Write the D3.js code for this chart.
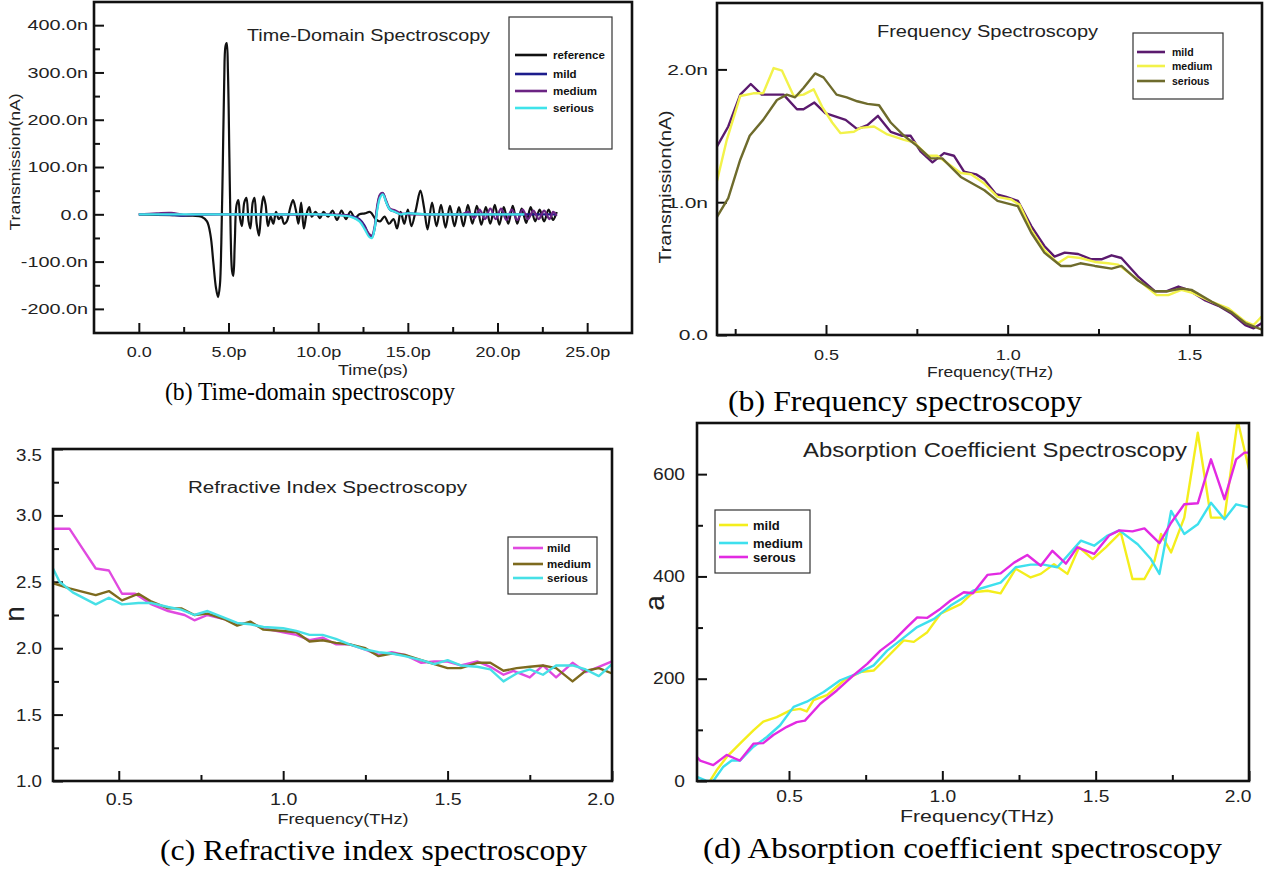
<!DOCTYPE html>
<html>
<head>
<meta charset="utf-8">
<script src="https://d3js.org/d3.v7.min.js"></script>
<style>
body { margin:0; background:#fff; }
text { font-family: "Liberation Sans", Arial, sans-serif; fill:#222; }
.caption { font-family: "Liberation Serif", "Times New Roman", serif; fill:#000; }
.legend-text { font-weight:bold; fill:#111; }
</style>
</head>
<body>
<div class="chart"></div>
<script>
// ---- (a) time-domain, [time ps, current nA]
const tdReference = [[0,0],[1,-1],[2,-2],[3,-3],[3.5,-5],[3.8,-15],[4.0,-45],[4.15,-100],[4.3,-155],[4.42,-175],[4.52,-150],[4.6,-60],[4.68,100],[4.76,280],[4.83,355],[4.9,362],[4.97,300],[5.05,120],[5.12,-40],[5.2,-120],[5.27,-130],[5.35,-60],[5.45,20],[5.55,30],[5.65,-10],[5.75,-25],[5.88,25],[6.0,35],[6.12,-15],[6.22,-30],[6.35,25],[6.45,35],[6.57,-20],[6.7,-45],[6.83,10],[6.95,38],[7.07,20],[7.2,-25],[7.35,-5],[7.5,-20],[7.65,5],[7.8,-10],[7.95,-5],[8.1,-20],[8.25,-15],[8.45,15],[8.6,30],[8.75,10],[8.9,-20],[9.05,25],[9.2,-30],[9.35,0],[9.5,15],[9.65,-5],[9.85,5],[10.1,-8],[10.3,5],[10.55,-5],[10.8,8],[11.05,-12],[11.3,8],[11.55,-10],[11.8,6],[12.05,-8],[12.3,0],[12.6,2],[12.9,5],[13.2,-10],[13.45,-15],[13.7,-5],[13.95,-20],[14.2,-10],[14.4,-30],[14.6,5],[14.8,-20],[15.0,10],[15.2,-25],[15.45,10],[15.7,50],[15.9,15],[16.1,-32],[16.35,25],[16.6,-25],[16.85,20],[17.1,-28],[17.35,18],[17.6,-25],[17.85,15],[18.1,-25],[18.35,20],[18.6,-20],[18.85,18],[19.1,-22],[19.35,15],[19.6,-20],[19.85,20],[20.1,-22],[20.35,15],[20.6,-20],[20.85,18],[21.1,-20],[21.35,12],[21.6,-18],[21.85,15],[22.1,-15],[22.35,10],[22.6,-15],[22.85,10],[23.1,-12],[23.3,5]];
const tdMild = [[0,0],[1,0],[2,-2],[2.5,-3],[3,-1],[4,0],[6,0],[8,0],[10,0],[11,-1],[11.8,-3],[12.3,-10],[12.6,-25],[12.85,-45],[13.0,-48],[13.15,-30],[13.3,15],[13.45,40],[13.6,45],[13.8,25],[14.0,10],[14.3,5],[14.6,0],[15,2],[16,0],[17,0],[18,0],[19,0],[20,0],[21,0],[22,0],[23,0],[23.3,0]];
const tdMedium = [[0,0],[1,2],[1.8,3],[2.5,-1],[3,0],[4,0],[6,0],[8,0],[10,0],[11,-1],[11.8,-4],[12.3,-12],[12.6,-28],[12.85,-42],[13.0,-45],[13.15,-25],[13.3,20],[13.45,42],[13.6,45],[13.8,28],[14.0,12],[14.3,8],[14.6,2],[15,0],[16,0],[17,0],[18,0],[18.4,5],[18.7,-8],[19.0,10],[19.3,-10],[19.6,12],[19.9,-10],[20.2,12],[20.5,-12],[20.8,10],[21.1,-12],[21.4,10],[21.7,-10],[22.0,8],[22.3,-10],[22.6,8],[22.9,-10],[23.1,5],[23.3,-3]];
const tdSerious = [[0,0],[1,0],[2,0],[3,0],[4,0],[6,0],[8,0],[10,0],[11,-2],[11.8,-5],[12.3,-15],[12.6,-32],[12.85,-48],[13.0,-50],[13.15,-30],[13.3,10],[13.45,35],[13.6,42],[13.8,25],[14.0,10],[14.3,5],[14.6,0],[15,2],[16,0],[17,0],[18,0],[19,0],[20,0],[21,0],[21.5,0]];

// ---- (b) frequency spectroscopy, [THz, nA]
const fsMild = [[0.2,1.42],[0.231,1.57],[0.264,1.81],[0.293,1.89],[0.323,1.81],[0.383,1.81],[0.42,1.70],[0.438,1.70],[0.468,1.75],[0.498,1.67],[0.554,1.62],[0.586,1.55],[0.614,1.58],[0.643,1.65],[0.678,1.53],[0.71,1.50],[0.733,1.50],[0.761,1.38],[0.793,1.30],[0.825,1.37],[0.852,1.35],[0.88,1.23],[0.913,1.21],[0.936,1.17],[0.968,1.06],[0.996,1.04],[1.028,1.01],[1.065,0.82],[1.101,0.67],[1.129,0.59],[1.157,0.62],[1.194,0.61],[1.23,0.57],[1.258,0.57],[1.286,0.60],[1.313,0.58],[1.359,0.44],[1.405,0.33],[1.438,0.33],[1.47,0.365],[1.497,0.34],[1.544,0.26],[1.58,0.22],[1.617,0.16],[1.654,0.075],[1.677,0.05],[1.7,0.09]];
const fsMedium = [[0.2,1.16],[0.227,1.47],[0.264,1.80],[0.30,1.82],[0.327,1.82],[0.356,2.01],[0.379,1.99],[0.411,1.80],[0.438,1.81],[0.466,1.85],[0.489,1.72],[0.517,1.60],[0.54,1.52],[0.577,1.53],[0.595,1.56],[0.632,1.57],[0.669,1.51],[0.715,1.47],[0.742,1.45],[0.78,1.35],[0.806,1.35],[0.871,1.22],[0.899,1.21],[0.936,1.14],[0.972,1.04],[1.01,1.02],[1.033,0.98],[1.065,0.79],[1.101,0.64],[1.138,0.54],[1.166,0.59],[1.20,0.58],[1.24,0.55],[1.276,0.54],[1.304,0.53],[1.359,0.415],[1.41,0.30],[1.442,0.30],[1.478,0.34],[1.506,0.32],[1.562,0.25],[1.608,0.20],[1.654,0.10],[1.677,0.075],[1.696,0.13],[1.7,0.14]];
const fsSerious = [[0.2,0.89],[0.231,1.03],[0.264,1.32],[0.29,1.50],[0.327,1.62],[0.365,1.77],[0.392,1.81],[0.415,1.79],[0.438,1.86],[0.47,1.97],[0.493,1.94],[0.529,1.81],[0.557,1.79],[0.586,1.76],[0.614,1.74],[0.646,1.73],[0.678,1.60],[0.715,1.50],[0.752,1.42],[0.788,1.33],[0.82,1.33],[0.871,1.19],[0.936,1.09],[0.972,1.01],[1.028,0.97],[1.065,0.77],[1.101,0.62],[1.147,0.52],[1.175,0.52],[1.20,0.54],[1.24,0.52],[1.286,0.50],[1.313,0.52],[1.359,0.41],[1.405,0.33],[1.442,0.33],[1.478,0.35],[1.506,0.34],[1.562,0.25],[1.617,0.17],[1.654,0.09],[1.7,0.04]];

// ---- (c) refractive index, [THz, n]
const riMild = [[0.3,2.90],[0.35,2.90],[0.39,2.75],[0.43,2.60],[0.47,2.585],[0.51,2.41],[0.55,2.41],[0.60,2.33],[0.65,2.28],[0.70,2.25],[0.73,2.21],[0.77,2.25],[0.82,2.22],[0.86,2.18],[0.90,2.19],[0.94,2.15],[1.0,2.12],[1.04,2.10],[1.08,2.06],[1.12,2.08],[1.16,2.03],[1.20,2.03],[1.25,1.99],[1.29,1.95],[1.33,1.97],[1.37,1.95],[1.42,1.89],[1.46,1.90],[1.5,1.90],[1.54,1.87],[1.59,1.90],[1.63,1.86],[1.67,1.80],[1.70,1.83],[1.75,1.78],[1.79,1.87],[1.83,1.78],[1.88,1.89],[1.92,1.82],[1.96,1.86],[2.0,1.90]];
const riMedium = [[0.3,2.49],[0.35,2.45],[0.43,2.40],[0.47,2.43],[0.51,2.36],[0.56,2.41],[0.60,2.35],[0.65,2.30],[0.69,2.30],[0.73,2.25],[0.77,2.26],[0.82,2.22],[0.86,2.17],[0.90,2.20],[0.94,2.14],[1.0,2.13],[1.04,2.12],[1.08,2.05],[1.12,2.06],[1.16,2.04],[1.20,2.03],[1.25,2.00],[1.29,1.94],[1.33,1.96],[1.37,1.95],[1.42,1.91],[1.46,1.88],[1.50,1.85],[1.54,1.85],[1.59,1.89],[1.63,1.89],[1.67,1.83],[1.71,1.85],[1.75,1.86],[1.79,1.87],[1.83,1.85],[1.88,1.75],[1.92,1.83],[1.96,1.85],[2.0,1.81]];
const riSerious = [[0.3,2.60],[0.32,2.50],[0.36,2.42],[0.43,2.33],[0.47,2.38],[0.51,2.33],[0.56,2.34],[0.60,2.34],[0.65,2.31],[0.69,2.29],[0.73,2.25],[0.77,2.28],[0.82,2.23],[0.86,2.19],[0.90,2.18],[0.94,2.16],[1.0,2.15],[1.04,2.13],[1.08,2.10],[1.12,2.10],[1.16,2.07],[1.20,2.03],[1.25,1.99],[1.29,1.97],[1.33,1.96],[1.37,1.94],[1.42,1.91],[1.46,1.88],[1.50,1.91],[1.54,1.87],[1.59,1.86],[1.63,1.84],[1.67,1.75],[1.71,1.81],[1.75,1.84],[1.79,1.80],[1.83,1.87],[1.88,1.87],[1.92,1.84],[1.96,1.79],[2.0,1.88]];

// ---- (d) absorption coefficient, [THz, a]
const acMild = [[0.2,-5],[0.237,-5],[0.264,21],[0.297,47],[0.34,73],[0.384,99],[0.416,116],[0.46,125],[0.504,138],[0.536,141],[0.558,136],[0.58,158],[0.624,168],[0.68,197],[0.733,213],[0.776,216],[0.82,242],[0.874,275],[0.907,272],[0.951,291],[0.994,327],[1.06,346],[1.1,369],[1.147,372],[1.19,367],[1.239,415],[1.288,398],[1.321,405],[1.364,424],[1.408,405],[1.446,457],[1.49,434],[1.533,457],[1.582,486],[1.62,395],[1.659,395],[1.692,431],[1.713,483],[1.746,447],[1.789,515],[1.833,681],[1.876,515],[1.92,515],[1.963,705],[2.0,609]];
const acMedium = [[0.2,8],[0.233,0],[0.253,0],[0.286,28],[0.313,40],[0.34,40],[0.384,67],[0.428,86],[0.471,109],[0.515,145],[0.558,155],[0.613,174],[0.667,197],[0.722,210],[0.776,226],[0.82,255],[0.863,275],[0.918,301],[0.973,317],[1.027,343],[1.07,359],[1.1,372],[1.19,388],[1.239,418],[1.288,423],[1.33,423],[1.375,418],[1.452,470],[1.495,460],[1.539,480],[1.577,490],[1.637,463],[1.68,434],[1.708,405],[1.746,528],[1.789,483],[1.833,502],[1.876,544],[1.92,512],[1.958,541],[2.0,535]];
const acSerous = [[0.2,47],[0.21,40],[0.253,31],[0.297,51],[0.324,44],[0.34,40],[0.384,73],[0.416,74],[0.449,90],[0.493,106],[0.525,115],[0.552,118],[0.602,151],[0.656,177],[0.711,207],[0.755,229],[0.798,255],[0.842,275],[0.885,301],[0.918,320],[0.951,319],[0.994,337],[1.027,353],[1.07,369],[1.1,367],[1.147,403],[1.19,406],[1.234,427],[1.277,442],[1.321,421],[1.359,450],[1.403,425],[1.44,457],[1.495,444],[1.544,480],[1.577,490],[1.62,488],[1.659,494],[1.708,465],[1.746,505],[1.789,541],[1.833,543],[1.876,629],[1.92,551],[1.958,629],[1.985,642],[2.0,642]];

// tick values
const tdTimeTicks = [0,5,10,15,20,25];
const tdTimeMinor = [2.5,7.5,12.5,17.5,22.5];
const tdAmpTicks = [-200,-100,0,100,200,300,400];
const tdAmpMinor = [-150,-50,50,150,250,350];
const fsFreqTicks = [0.5,1.0,1.5];
const fsFreqMinor = [0.25,0.75,1.25];
const fsAmpTicks = [0,1,2];
const riFreqTicks = [0.5,1.0,1.5,2.0];
const riFreqMinor = [0.75,1.25,1.75];
const riTicks = [1.0,1.5,2.0,2.5,3.0,3.5];
const riMinor = [1.25,1.75,2.25,2.75,3.25];
const acTicks = [0,200,400,600];
const acMinor = [100,300,500];

const svg = d3.select('.chart')
    .append('svg')
    .attr('width', 1272)
    .attr('height', 870);

function fit(sel, w) {
    return sel.attr('textLength', w).attr('lengthAdjust', 'spacingAndGlyphs');
}
function stretch(sel, k) {
    sel.each(function(){
        const w = this.getComputedTextLength();
        d3.select(this).attr('textLength', w*k).attr('lengthAdjust', 'spacingAndGlyphs');
    });
}

function panel(p) {
    const [x0, y0, x1, y1] = p.box;
    const x = d3.scaleLinear().domain(p.xDomain).range([x0, x1]);
    const y = d3.scaleLinear().domain(p.yDomain).range([y1, y0]);
    const g = svg.append('g');

    g.append('clipPath').attr('id', p.id + '-clip')
        .append('rect')
        .attr('x', x0).attr('y', y0)
        .attr('width', x1 - x0).attr('height', y1 - y0);

    // axes: ticks point inward
    const styleAxis = a => {
        a.select('.domain').remove();
        a.selectAll('.tick line').attr('stroke', '#111').attr('stroke-width', 2);
    };
    g.append('g')
        .attr('transform', `translate(0,${y1})`)
        .call(d3.axisBottom(x).tickValues(p.xMinor || []).tickSize(-6).tickFormat(''))
        .call(styleAxis);
    g.append('g')
        .attr('transform', `translate(${x0},0)`)
        .call(d3.axisLeft(y).tickValues(p.yMinor || []).tickSize(-6).tickFormat(''))
        .call(styleAxis);

    const xa = g.append('g')
        .attr('transform', `translate(0,${y1})`)
        .call(d3.axisBottom(x).tickValues(p.xTicks).tickSize(-10).tickPadding(p.xPad).tickFormat(p.xFormat))
        .call(styleAxis);
    const ya = g.append('g')
        .attr('transform', `translate(${x0},0)`)
        .call(d3.axisLeft(y).tickValues(p.yTicks).tickSize(-10).tickPadding(p.yPad).tickFormat(p.yFormat))
        .call(styleAxis);

    xa.selectAll('text').attr('font-size', p.tickFont).attr('fill', '#222')
        .style('font-family', '"Liberation Sans", Arial, sans-serif');
    ya.selectAll('text').attr('font-size', p.tickFont).attr('fill', '#222')
        .style('font-family', '"Liberation Sans", Arial, sans-serif');
    if (p.xLastEnd) {
        xa.selectAll('.tick').filter((d, i, n) => i === n.length - 1)
            .select('text').attr('text-anchor', 'end').attr('x', 2);
    }
    if (p.yTopShift) {
        ya.selectAll('.tick').filter((d, i, n) => i === n.length - 1)
            .select('text').attr('dy', '0.32em').attr('y', p.yTopShift);
    }
    stretch(xa.selectAll('text'), p.xStretch);
    stretch(ya.selectAll('text'), p.yStretch);

    // series
    const line = d3.line()
        .x(d => x(d[0]))
        .y(d => y(d[1]))
        .curve(p.curve || d3.curveLinear);

    g.append('g')
        .attr('clip-path', `url(#${p.id}-clip)`)
        .selectAll('path')
        .data(p.series)
        .enter()
        .append('path')
        .attr('d', s => line(s.data))
        .attr('fill', 'none')
        .attr('stroke', s => s.color)
        .attr('stroke-width', p.lineWidth || 2.4)
        .attr('stroke-linejoin', 'round');

    // frame
    g.append('rect')
        .attr('x', x0).attr('y', y0)
        .attr('width', x1 - x0).attr('height', y1 - y0)
        .attr('fill', 'none')
        .attr('stroke', '#111')
        .attr('stroke-width', 2.6);

    // title
    fit(g.append('text')
        .attr('x', p.title.x).attr('y', p.title.y)
        .attr('font-size', p.title.size)
        .text(p.title.text), p.title.w);

    // axis titles
    fit(g.append('text')
        .attr('x', p.xLabel.x).attr('y', p.xLabel.y)
        .attr('text-anchor', 'middle')
        .attr('font-size', p.xLabel.size)
        .text(p.xLabel.text), p.xLabel.w);

    const yl = g.append('text')
        .attr('transform', `translate(${p.yLabel.x},${p.yLabel.y}) rotate(-90)`)
        .attr('text-anchor', 'middle')
        .attr('font-size', p.yLabel.size)
        .text(p.yLabel.text);
    if (p.yLabel.w) fit(yl, p.yLabel.w);

    // legend
    const L = p.legend;
    g.append('rect')
        .attr('x', L.box[0]).attr('y', L.box[1])
        .attr('width', L.box[2] - L.box[0]).attr('height', L.box[3] - L.box[1])
        .attr('fill', '#fff')
        .attr('stroke', '#333')
        .attr('stroke-width', 1.2);
    const row = g.selectAll('.lg-' + p.id)
        .data(p.series)
        .enter()
        .append('g')
        .attr('class', 'lg-' + p.id);
    row.append('line')
        .attr('x1', L.line[0]).attr('x2', L.line[1])
        .attr('y1', (d, i) => L.rows[i]).attr('y2', (d, i) => L.rows[i])
        .attr('stroke', d => d.color)
        .attr('stroke-width', 2.6);
    row.append('text')
        .attr('class', 'legend-text')
        .attr('x', L.textX)
        .attr('y', (d, i) => L.rows[i])
        .attr('dy', '0.35em')
        .attr('font-size', L.size)
        .text(d => d.name);
}

const fmtN = d => d === 0 ? '0.0' : d.toFixed(1) + 'n';
const fmtP = d => d === 0 ? '0.0' : d.toFixed(1) + 'p';

panel({
    id: 'td',
    box: [94, 2, 632, 333],
    xDomain: [-2.5, 27.5], yDomain: [-251, 449],
    xTicks: tdTimeTicks, xMinor: tdTimeMinor, xFormat: fmtP,
    yTicks: tdAmpTicks, yMinor: tdAmpMinor, yFormat: fmtN,
    xPad: 13, yPad: 6, tickFont: 15, xStretch: 1.2, yStretch: 1.32,
    curve: d3.curveCatmullRom, lineWidth: 2.2,
    series: [
        {name: 'reference', data: tdReference, color: '#111111'},
        {name: 'mild', data: tdMild, color: '#1c1c8c'},
        {name: 'medium', data: tdMedium, color: '#6b2483'},
        {name: 'serious', data: tdSerious, color: '#3fe3ea'}
    ],
    title: {text: 'Time-Domain Spectroscopy', x: 247, y: 41, size: 17, w: 243},
    xLabel: {text: 'Time(ps)', x: 373, y: 375, size: 15, w: 70},
    yLabel: {text: 'Transmission(nA)', x: 20, y: 162, size: 15, w: 137},
    legend: {box: [509, 17, 612, 149], rows: [55, 74, 91, 108], line: [515, 547], textX: 553, size: 11.5}
});

panel({
    id: 'fs',
    box: [717, 3, 1262, 335],
    xDomain: [0.2, 1.7], yDomain: [0, 2.5],
    xTicks: fsFreqTicks, xMinor: fsFreqMinor, xFormat: d3.format('.1f'),
    yTicks: fsAmpTicks, yMinor: [], yFormat: fmtN,
    xPad: 14, yPad: 9, tickFont: 15, xStretch: 1.2, yStretch: 1.4,
    series: [
        {name: 'mild', data: fsMild, color: '#5b1a6e'},
        {name: 'medium', data: fsMedium, color: '#f2f24a'},
        {name: 'serious', data: fsSerious, color: '#6e6b2c'}
    ],
    title: {text: 'Frequency Spectroscopy', x: 877, y: 37, size: 16, w: 221},
    xLabel: {text: 'Frequency(THz)', x: 990, y: 377, size: 15, w: 126},
    yLabel: {text: 'Transmission(nA)', x: 671, y: 187, size: 16, w: 153},
    legend: {box: [1133, 33, 1223, 99], rows: [52, 66, 81], line: [1137, 1165], textX: 1172, size: 10.5}
});

panel({
    id: 'ri',
    box: [53, 449, 612, 781],
    xDomain: [0.3, 2.0], yDomain: [1.0, 3.5],
    xTicks: riFreqTicks, xMinor: riFreqMinor, xFormat: d3.format('.1f'),
    yTicks: riTicks, yMinor: riMinor, yFormat: d3.format('.1f'),
    xPad: 12, yPad: 11, tickFont: 17, xStretch: 1.15, yStretch: 1.1,
    xLastEnd: true, yTopShift: 6,
    series: [
        {name: 'mild', data: riMild, color: '#e04ae0'},
        {name: 'medium', data: riMedium, color: '#7d6a1e'},
        {name: 'serious', data: riSerious, color: '#47e0e6'}
    ],
    title: {text: 'Refractive Index Spectroscopy', x: 188, y: 493, size: 16, w: 279},
    xLabel: {text: 'Frequency(THz)', x: 343, y: 824, size: 15, w: 131},
    yLabel: {text: 'n', x: 24, y: 614, size: 28},
    legend: {box: [508, 537, 597, 594], rows: [548, 564, 578], line: [513, 543], textX: 547, size: 11.5}
});

panel({
    id: 'ac',
    box: [697, 423, 1249, 781],
    xDomain: [0.2, 2.0], yDomain: [0, 700],
    xTicks: riFreqTicks, xMinor: riFreqMinor, xFormat: d3.format('.1f'),
    yTicks: acTicks, yMinor: acMinor, yFormat: d3.format('d'),
    xPad: 10, yPad: 12, tickFont: 16, xStretch: 1.2, yStretch: 1.2,
    xLastEnd: true,
    series: [
        {name: 'mild', data: acMild, color: '#f4ee1c'},
        {name: 'medium', data: acMedium, color: '#3ee0ee'},
        {name: 'serous', data: acSerous, color: '#e22ae2'}
    ],
    title: {text: 'Absorption Coefficient Spectroscopy', x: 803, y: 457, size: 20, w: 384},
    xLabel: {text: 'Frequency(THz)', x: 977, y: 822, size: 17, w: 154},
    yLabel: {text: 'a', x: 664, y: 603, size: 28},
    legend: {box: [715, 510, 810, 573], rows: [525, 543, 557], line: [719, 748], textX: 753, size: 13}
});

// sub-figure captions
const captions = [
    {text: '(b) Time-domain spectroscopy', x: 165, y: 400, size: 26, w: 290},
    {text: '(b) Frequency spectroscopy', x: 728, y: 411, size: 29, w: 354},
    {text: '(c) Refractive index spectroscopy', x: 160, y: 860, size: 29, w: 427},
    {text: '(d) Absorption coefficient spectroscopy', x: 703, y: 858, size: 29, w: 519}
];
captions.forEach(c => {
    fit(svg.append('text')
        .attr('class', 'caption')
        .attr('x', c.x).attr('y', c.y)
        .attr('font-size', c.size)
        .text(c.text), c.w);
});
</script>
</body>
</html>
